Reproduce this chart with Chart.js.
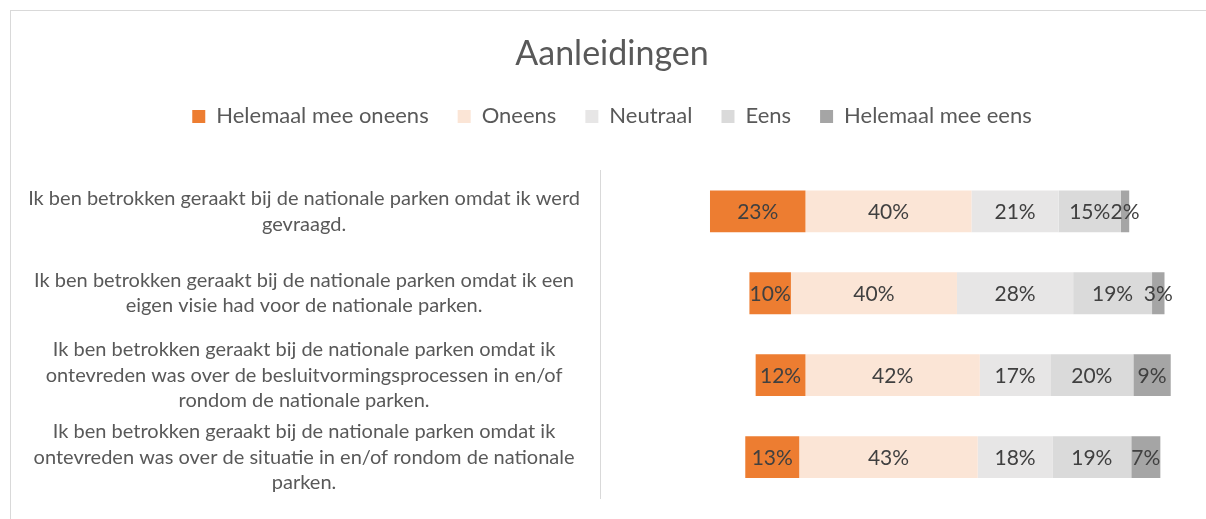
<!DOCTYPE html>
<html>
<head>
<meta charset="utf-8">
<script src="https://cdn.jsdelivr.net/npm/chart.js@4/dist/chart.umd.min.js"></script>
<style>
  html, body { margin: 0; padding: 0; background: #fff; overflow: hidden; }
  #frame { position: absolute; left: 10px; top: 10px; width: 1300px; height: 600px;
           border-left: 1px solid #d9d9d9; border-top: 1px solid #d9d9d9; }
  #chart { position: absolute; left: 0; top: 0; }
</style>
</head>
<body>
<div id="frame"></div>
<canvas id="chart" width="1206" height="519"></canvas>
<script>
// statements (one per bar, already wrapped as in the picture)
const categories = [
    ['Ik ben betrokken geraakt bij de nationale parken omdat ik werd', 'gevraagd.'],
    ['Ik ben betrokken geraakt bij de nationale parken omdat ik een', 'eigen visie had voor de nationale parken.'],
    ['Ik ben betrokken geraakt bij de nationale parken omdat ik', 'ontevreden was over de besluitvormingsprocessen in en/of', 'rondom de nationale parken.'],
    ['Ik ben betrokken geraakt bij de nationale parken omdat ik', 'ontevreden was over de situatie in en/of rondom de nationale', 'parken.']
];

// percentages per answer
const helemaalOneens = [23, 10, 12, 13];
const oneens = [40, 40, 42, 43];
const neutraal = [21, 28, 17, 18];
const eens = [15, 19, 20, 19];
const helemaalEens = [2, 3, 9, 7];

const seriesNames = ['Helemaal mee oneens', 'Oneens', 'Neutraal', 'Eens', 'Helemaal mee eens'];
const seriesColors = ['#ed7d31', '#fbe5d6', '#e7e6e6', '#dadada', '#a5a5a5'];

// invisible spacer so every bar is centred on the middle of "Neutraal"
const spacer = helemaalOneens.map((v, i) => 100 - (v + oneens[i] + neutraal[i] / 2));

const FONT = 'Lato';

const datasets = [{
    label: '_spacer',
    data: spacer,
    backgroundColor: 'rgba(0,0,0,0)'
}];
[helemaalOneens, oneens, neutraal, eens, helemaalEens].forEach((vals, k) => {
    datasets.push({
        label: seriesNames[k],
        data: vals,
        backgroundColor: seriesColors[k]
    });
});

// percentage labels in the middle of each segment
const segmentLabels = {
    id: 'segmentLabels',
    afterDatasetsDraw(chart) {
        const ctx = chart.ctx;
        ctx.save();
        ctx.font = '21px ' + FONT;
        ctx.fillStyle = '#404040';
        ctx.textAlign = 'center';
        ctx.textBaseline = 'middle';
        chart.data.datasets.forEach((ds, di) => {
            if (di === 0) return;
            chart.getDatasetMeta(di).data.forEach((bar, i) => {
                const cx = (bar.x + bar.base) / 2;
                ctx.fillText(ds.data[i] + '%', cx, bar.y + 1);
            });
        });
        ctx.restore();
    }
};

const config = {
    type: 'bar',
    data: { labels: categories, datasets: datasets },
    options: {
        indexAxis: 'y',
        responsive: false,
        animation: false,
        layout: { padding: { left: 18, right: 0, top: 0, bottom: 21 } },
        datasets: { bar: { barPercentage: 0.51, categoryPercentage: 1 } },
        scales: {
            x: {
                stacked: true,
                position: 'top',
                min: 0,
                max: 146,
                ticks: { display: false },
                grid: { display: false },
                border: { display: false },
                afterFit(s) { s.height = 33; }
            },
            y: {
                stacked: true,
                grid: { display: false, drawTicks: false },
                border: { display: true, color: '#d9d9d9', width: 1 },
                ticks: {
                    autoSkip: false,
                    padding: 20,
                    crossAlign: 'center',
                    color: '#595959',
                    font: { family: FONT, size: 20, lineHeight: 1.27 }
                },
                afterFit(s) {
                    s.width = 582;
                    s.paddingTop = 0;
                    s.paddingBottom = 0;
                }
            }
        },
        plugins: {
            title: {
                display: true,
                text: 'Aanleidingen',
                color: '#595959',
                font: { family: FONT, size: 34, weight: 'normal', lineHeight: 1.1 },
                padding: { top: 35, bottom: 4 }
            },
            legend: {
                display: true,
                position: 'top',
                labels: {
                    color: '#595959',
                    font: { family: FONT, size: 22 },
                    boxWidth: 13,
                    boxHeight: 13,
                    padding: 29,
                    filter: item => item.datasetIndex !== 0
                }
            },
            tooltip: { enabled: false }
        }
    },
    plugins: [segmentLabels]
};

const chart = new Chart(document.getElementById('chart').getContext('2d'), config);
</script>
</body>
</html>
